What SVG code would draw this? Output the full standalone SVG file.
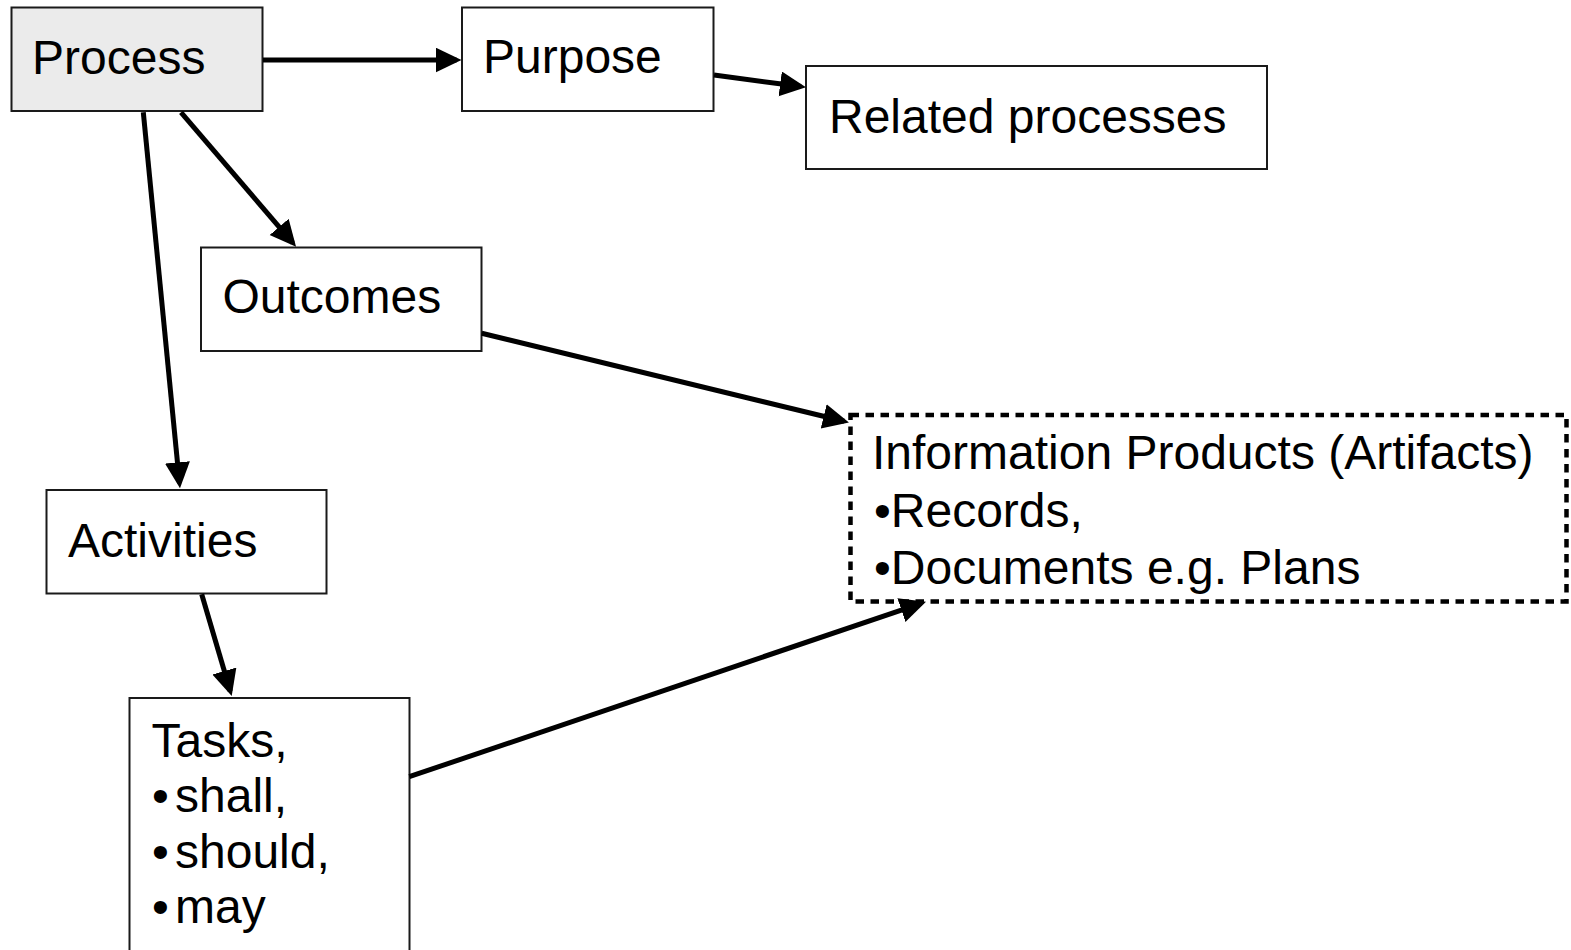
<svg xmlns="http://www.w3.org/2000/svg" width="1571" height="950" viewBox="0 0 1571 950">
<style>
.box{fill:#fff;stroke:#1a1a1a;stroke-width:2}
.proc{fill:#ebebeb}
.dash{fill:#fff;stroke:#000;stroke-width:4.5;stroke-dasharray:8.5 6.5}
.t{font-family:"Liberation Sans",Arial,sans-serif;font-size:48px;fill:#000}
.c{stroke:#000;stroke-width:5;fill:none;marker-end:url(#ah)}
</style>
<defs>
<marker id="ah" markerUnits="userSpaceOnUse" markerWidth="28" markerHeight="27" refX="21" refY="12.5" orient="auto">
<path d="M0,0 L26,12.5 L0,25 z" fill="#000"/>
</marker>
</defs>
<rect width="1571" height="950" fill="#fff"/>
<g id="process"><rect class="box proc" x="11.5" y="7.5" width="251" height="103.5"/><text class="t" x="32" y="74">Process</text></g>
<g id="purpose"><rect class="box" x="462" y="7.5" width="251.5" height="103.5"/><text class="t" x="483" y="73">Purpose</text></g>
<g id="related"><rect class="box" x="806" y="66" width="461" height="103"/><text class="t" x="829" y="132.7">Related processes</text></g>
<g id="outcomes"><rect class="box" x="201" y="247.5" width="280.5" height="103.5"/><text class="t" x="222.5" y="313.3">Outcomes</text></g>
<g id="activities"><rect class="box" x="46.5" y="490" width="280" height="103.5"/><text class="t" x="68" y="557">Activities</text></g>
<g id="tasks"><rect class="box" x="129.5" y="698" width="280" height="270"/>
<text class="t"><tspan x="151.5" y="757">Tasks,</tspan><tspan x="152" y="811.7">•</tspan><tspan x="175" y="811.7">shall,</tspan><tspan x="152" y="868.3">•</tspan><tspan x="175" y="868.3">should,</tspan><tspan x="152" y="923.3">•</tspan><tspan x="175" y="923.3">may</tspan></text></g>
<g id="info"><rect class="dash" x="850.5" y="415" width="716" height="186.5"/>
<text class="t"><tspan x="872" y="469.3">Information Products (Artifacts)</tspan><tspan x="874" y="526.7">•Records,</tspan><tspan x="874" y="584.3">•Documents e.g. Plans</tspan></text></g>
<g id="connectors">
<line class="c" x1="263" y1="60" x2="456.5" y2="60"/>
<line class="c" x1="714" y1="75" x2="801" y2="86.6"/>
<line class="c" x1="181" y1="112.3" x2="292.8" y2="242.9"/>
<line class="c" x1="143.3" y1="112.3" x2="179.5" y2="483.3"/>
<line class="c" x1="201.7" y1="594.3" x2="230.3" y2="691.2"/>
<line class="c" x1="481.7" y1="333.3" x2="844.1" y2="421.3"/>
<line class="c" x1="409.3" y1="776.7" x2="921.3" y2="603.3"/>
</g>
</svg>
